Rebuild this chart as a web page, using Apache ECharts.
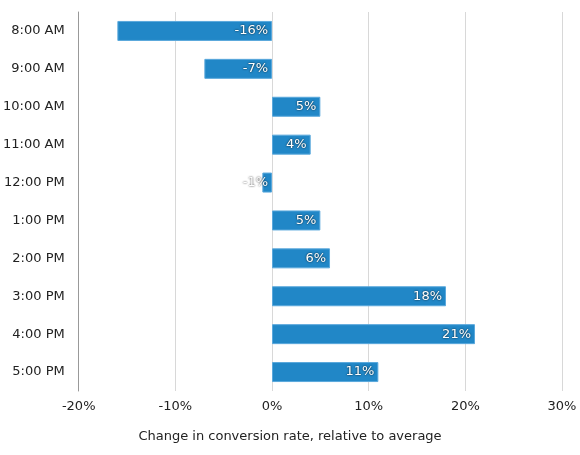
<!DOCTYPE html>
<html><head><meta charset="utf-8">
<script src="https://cdn.jsdelivr.net/npm/echarts@6/dist/echarts.min.js"></script>
<style>html,body{margin:0;padding:0;background:#fff}#c{width:580px;height:455px}</style>
</head><body><div id="c"></div>
<script>
const categories = ['8:00 AM','9:00 AM','10:00 AM','11:00 AM','12:00 PM','1:00 PM','2:00 PM','3:00 PM','4:00 PM','5:00 PM'];
const values = [-16, -7, 5, 4, -1, 5, 6, 18, 21, 11];
const xTicks = [-20, -10, 0, 10, 20, 30];
const xTitle = 'Change in conversion rate, relative to average';

const font = '"DejaVu Sans", Verdana, sans-serif';
const chart = echarts.init(document.getElementById('c'));
chart.setOption({
  animation: false,
  title: {
    text: xTitle, left: 'center', top: 425,
    textStyle: { color: '#222', fontFamily: font, fontSize: 13, fontWeight: 'normal' }
  },
  grid: { left: 77, right: 18, top: 12, bottom: 64 },
  xAxis: {
    type: 'value', min: xTicks[0], max: xTicks[xTicks.length-1], interval: 10,
    axisLine: { show: false }, axisTick: { show: false },
    splitLine: { lineStyle: { color: '#d8d8d8', width: 1 } },
    axisLabel: { formatter: v => v + '%', color: '#222', fontFamily: font, fontSize: 13, margin: 9 }
  },
  yAxis: {
    type: 'category', data: categories, inverse: true,
    axisLine: { show: true, onZero: false, lineStyle: { color: '#999' } },
    axisTick: { show: false },
    axisLabel: { color: '#222', fontFamily: font, fontSize: 13, margin: 14 }
  },
  series: [{
    type: 'bar', data: values, barWidth: 20,
    itemStyle: { color: '#2187c7', borderColor: '#5aa8dc', borderWidth: 1 },
    label: {
      show: true, position: 'insideRight', distance: 4,
      formatter: p => p.value + '%',
      color: '#fff', fontFamily: font, fontSize: 13,
      textShadowColor: 'rgba(0,0,0,0.9)', textShadowBlur: 2, textShadowOffsetX: 0, textShadowOffsetY: 0
    }
  }]
});
</script></body></html>
